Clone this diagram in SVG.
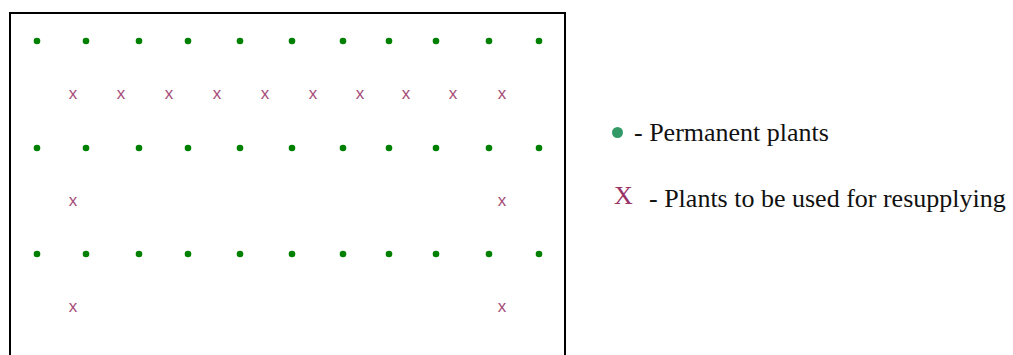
<svg xmlns="http://www.w3.org/2000/svg" width="1013" height="355" viewBox="0 0 1013 355">
<style>
.dot{fill:#008000}
.x{font-family:"Liberation Sans",Arial,sans-serif;font-size:17px;fill:#a64d79;text-anchor:middle}
.leg{font-family:"Liberation Serif","Times New Roman",serif;font-size:26px;fill:#111}
</style>
<rect width="1013" height="355" fill="#fff"/>
<g id="field">
<rect x="10" y="13" width="555" height="360" fill="none" stroke="#000" stroke-width="2"/>
</g>
<g id="permanent-row-1">
<circle class="dot" cx="37" cy="41" r="3.3"/><circle class="dot" cx="86" cy="41" r="3.3"/><circle class="dot" cx="139" cy="41" r="3.3"/><circle class="dot" cx="188" cy="41" r="3.3"/><circle class="dot" cx="240" cy="41" r="3.3"/><circle class="dot" cx="292" cy="41" r="3.3"/><circle class="dot" cx="343" cy="41" r="3.3"/><circle class="dot" cx="389" cy="41" r="3.3"/><circle class="dot" cx="436" cy="41" r="3.3"/><circle class="dot" cx="489" cy="41" r="3.3"/><circle class="dot" cx="539" cy="41" r="3.3"/>
</g>
<g id="permanent-row-2">
<circle class="dot" cx="37" cy="148" r="3.3"/><circle class="dot" cx="86" cy="148" r="3.3"/><circle class="dot" cx="139" cy="148" r="3.3"/><circle class="dot" cx="188" cy="148" r="3.3"/><circle class="dot" cx="240" cy="148" r="3.3"/><circle class="dot" cx="292" cy="148" r="3.3"/><circle class="dot" cx="343" cy="148" r="3.3"/><circle class="dot" cx="389" cy="148" r="3.3"/><circle class="dot" cx="436" cy="148" r="3.3"/><circle class="dot" cx="489" cy="148" r="3.3"/><circle class="dot" cx="539" cy="148" r="3.3"/>
</g>
<g id="permanent-row-3">
<circle class="dot" cx="37" cy="254" r="3.3"/><circle class="dot" cx="86" cy="254" r="3.3"/><circle class="dot" cx="139" cy="254" r="3.3"/><circle class="dot" cx="188" cy="254" r="3.3"/><circle class="dot" cx="240" cy="254" r="3.3"/><circle class="dot" cx="292" cy="254" r="3.3"/><circle class="dot" cx="343" cy="254" r="3.3"/><circle class="dot" cx="389" cy="254" r="3.3"/><circle class="dot" cx="436" cy="254" r="3.3"/><circle class="dot" cx="489" cy="254" r="3.3"/><circle class="dot" cx="539" cy="254" r="3.3"/>
</g>
<g id="resupply-row-1">
<text class="x" x="73" y="99">x</text><text class="x" x="121" y="99">x</text><text class="x" x="169" y="99">x</text><text class="x" x="217" y="99">x</text><text class="x" x="265" y="99">x</text><text class="x" x="313" y="99">x</text><text class="x" x="360" y="99">x</text><text class="x" x="406" y="99">x</text><text class="x" x="453" y="99">x</text><text class="x" x="502" y="99">x</text>
</g>
<g id="resupply-row-2">
<text class="x" x="73" y="206">x</text><text class="x" x="502" y="206">x</text>
</g>
<g id="resupply-row-3">
<text class="x" x="73" y="312">x</text><text class="x" x="502" y="312">x</text>
</g>
<g id="legend-permanent">
<circle cx="617.5" cy="132.5" r="5.5" fill="#339966"/>
<text class="leg" x="634" y="141">- Permanent plants</text>
</g>
<g id="legend-resupply">
<text x="614" y="204" font-family="'Liberation Serif','Times New Roman',serif" font-size="26" fill="#993366">X</text>
<text class="leg" x="649" y="207">- Plants to be used for resupplying</text>
</g>
</svg>
